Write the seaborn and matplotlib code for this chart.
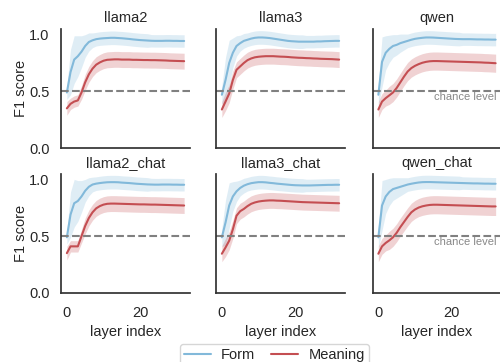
import numpy as np
import pandas as pd
import matplotlib
matplotlib.use("Agg")
import matplotlib.pyplot as plt
from matplotlib import font_manager as fm
import seaborn as sns

layers = list(range(33))
models = ["llama2", "llama3", "qwen", "llama2_chat", "llama3_chat", "qwen_chat"]
series = ["Form", "Meaning"]

form_mean = {
    "llama2": [0.49, 0.67, 0.78, 0.81, 0.85, 0.90, 0.935, 0.95, 0.96, 0.965, 0.968, 0.97, 0.972, 0.972, 0.97, 0.968, 0.965,
               0.962, 0.958, 0.955, 0.952, 0.95, 0.948, 0.946, 0.945, 0.945, 0.945, 0.946, 0.946, 0.945, 0.945, 0.944, 0.944],
    "llama3": [0.47, 0.60, 0.75, 0.84, 0.90, 0.925, 0.945, 0.955, 0.965, 0.972, 0.975, 0.975, 0.973, 0.97, 0.965, 0.96, 0.955,
               0.95, 0.945, 0.942, 0.94, 0.938, 0.938, 0.938, 0.938, 0.938, 0.94, 0.94, 0.942, 0.943, 0.944, 0.945, 0.945],
    "qwen": [0.47, 0.76, 0.84, 0.875, 0.90, 0.91, 0.925, 0.935, 0.945, 0.955, 0.963, 0.968, 0.972, 0.975, 0.975, 0.974, 0.972,
             0.97, 0.968, 0.966, 0.964, 0.962, 0.961, 0.96, 0.96, 0.96, 0.959, 0.958, 0.958, 0.957, 0.957, 0.956, 0.956],
    "llama2_chat": [0.49, 0.69, 0.79, 0.81, 0.85, 0.90, 0.935, 0.955, 0.963, 0.968, 0.972, 0.975, 0.976, 0.976, 0.975, 0.972,
                    0.97, 0.968, 0.965, 0.962, 0.96, 0.958, 0.956, 0.955, 0.954, 0.954, 0.955, 0.955, 0.955, 0.954, 0.954,
                    0.953, 0.953],
    "llama3_chat": [0.49, 0.62, 0.77, 0.85, 0.895, 0.925, 0.945, 0.958, 0.967, 0.972, 0.976, 0.976, 0.974, 0.97, 0.967,
                    0.963, 0.96, 0.957, 0.954, 0.951, 0.949, 0.948, 0.947, 0.947, 0.947, 0.948, 0.949, 0.95, 0.951, 0.952,
                    0.952, 0.953, 0.953],
    "qwen_chat": [0.49, 0.77, 0.85, 0.89, 0.915, 0.925, 0.935, 0.945, 0.955, 0.962, 0.968, 0.973, 0.976, 0.977, 0.977, 0.976,
                  0.975, 0.974, 0.973, 0.972, 0.971, 0.97, 0.969, 0.968, 0.967, 0.966, 0.965, 0.965, 0.964, 0.963, 0.963,
                  0.962, 0.962],
}

meaning_mean = {
    "llama2": [0.35, 0.39, 0.41, 0.42, 0.49, 0.58, 0.65, 0.70, 0.735, 0.755, 0.77, 0.778, 0.78, 0.782, 0.782, 0.78, 0.78,
               0.78, 0.778, 0.778, 0.777, 0.776, 0.776, 0.775, 0.775, 0.774, 0.773, 0.772, 0.77, 0.769, 0.768, 0.767, 0.766],
    "llama3": [0.34, 0.41, 0.48, 0.60, 0.69, 0.72, 0.75, 0.775, 0.79, 0.80, 0.805, 0.808, 0.81, 0.81, 0.81, 0.808, 0.806,
               0.805, 0.803, 0.80, 0.798, 0.796, 0.795, 0.793, 0.792, 0.79, 0.789, 0.787, 0.786, 0.785, 0.784, 0.782, 0.78],
    "qwen": [0.34, 0.41, 0.44, 0.465, 0.49, 0.53, 0.58, 0.63, 0.675, 0.705, 0.725, 0.74, 0.752, 0.76, 0.765, 0.767, 0.767,
             0.766, 0.765, 0.764, 0.763, 0.762, 0.761, 0.76, 0.759, 0.758, 0.757, 0.756, 0.755, 0.753, 0.752, 0.75, 0.748],
    "llama2_chat": [0.35, 0.41, 0.41, 0.41, 0.50, 0.59, 0.66, 0.71, 0.745, 0.765, 0.778, 0.785, 0.787, 0.787, 0.786, 0.785,
                    0.784, 0.783, 0.782, 0.781, 0.78, 0.78, 0.779, 0.778, 0.778, 0.777, 0.776, 0.775, 0.774, 0.773, 0.772,
                    0.771, 0.77],
    "llama3_chat": [0.345, 0.40, 0.46, 0.56, 0.68, 0.72, 0.74, 0.765, 0.785, 0.797, 0.805, 0.81, 0.813, 0.815, 0.815, 0.813,
                    0.812, 0.81, 0.808, 0.806, 0.804, 0.802, 0.80, 0.799, 0.798, 0.797, 0.796, 0.795, 0.794, 0.793, 0.792,
                    0.791, 0.79],
    "qwen_chat": [0.345, 0.41, 0.44, 0.463, 0.49, 0.53, 0.58, 0.625, 0.67, 0.71, 0.735, 0.752, 0.763, 0.77, 0.775, 0.777,
                  0.777, 0.776, 0.775, 0.774, 0.773, 0.772, 0.771, 0.77, 0.769, 0.768, 0.767, 0.766, 0.765, 0.764, 0.763,
                  0.762, 0.762],
}

# half-width of the shaded confidence band
form_band = {
    "llama2": [0.06, 0.20, 0.21, 0.18, 0.14, 0.10, 0.08, 0.065] + [0.06] * 15 + [0.055] * 10,
    "llama3": [0.08, 0.20, 0.20, 0.13, 0.09, 0.07, 0.065] + [0.06] * 16 + [0.055] * 10,
    "qwen": [0.10, 0.22, 0.15, 0.12, 0.10, 0.09, 0.08, 0.07] + [0.06] * 15 + [0.055] * 10,
    "llama2_chat": [0.06, 0.20, 0.21, 0.18, 0.14, 0.10, 0.08, 0.065] + [0.06] * 15 + [0.055] * 10,
    "llama3_chat": [0.08, 0.20, 0.20, 0.13, 0.09, 0.07, 0.065] + [0.06] * 16 + [0.055] * 10,
    "qwen_chat": [0.10, 0.22, 0.15, 0.12, 0.10, 0.09, 0.08, 0.07] + [0.06] * 15 + [0.055] * 10,
}
meaning_band = {
    "llama2": [0.06, 0.05, 0.05, 0.05, 0.06] + [0.07] * 28,
    "llama3": [0.07, 0.08, 0.08, 0.08] + [0.07] * 29,
    "qwen": [0.07, 0.07, 0.07] + [0.08] * 30,
    "llama2_chat": [0.06, 0.05, 0.05, 0.05, 0.06] + [0.07] * 28,
    "llama3_chat": [0.07, 0.08, 0.08, 0.08] + [0.07] * 29,
    "qwen_chat": [0.07, 0.07, 0.07] + [0.08] * 30,
}

chance = 0.5
colors = {"Form": "#82b9da", "Meaning": "#c44e52"}

# avoid the condensed variant being picked for "Liberation Sans"
fm.fontManager.ttflist = [f for f in fm.fontManager.ttflist if "Narrow" not in f.fname and "Narrow" not in f.name]
try:
    fm.fontManager._findfont_cached.cache_clear()
except Exception:
    pass

sns.set_theme(style="white")
plt.rcParams["font.family"] = ["Liberation Sans", "DejaVu Sans"]

fig = plt.figure(figsize=(5.0, 3.62), dpi=100)
col_left = [0.122, 0.432, 0.745]
row_bottom = [0.591, 0.191]
w, h = 0.258, 0.329

axes = []
for i, m in enumerate(models):
    r, c = divmod(i, 3)
    ax = fig.add_axes([col_left[c], row_bottom[r], w, h])
    axes.append(ax)
    df = pd.DataFrame({
        "layer": layers * 2,
        "score": form_mean[m] + meaning_mean[m],
        "kind": ["Form"] * len(layers) + ["Meaning"] * len(layers),
    })
    sns.lineplot(data=df, x="layer", y="score", hue="kind", palette=colors, ax=ax, linewidth=1.5, legend=(i == 0))
    for s, mean_d, band_d in (("Form", form_mean, form_band), ("Meaning", meaning_mean, meaning_band)):
        mu = np.array(mean_d[m])
        bw = np.array(band_d[m])
        ax.fill_between(layers, mu - bw, mu + bw, color=colors[s], alpha=0.25, linewidth=0)
    ax.axhline(chance, color="#808080", linestyle="--", linewidth=1.5)
    ax.set_ylim(0, 1.05)
    ax.set_xlim(-1.6, 33.6)
    ax.set_yticks([0.0, 0.5, 1.0])
    ax.set_xticks([0, 20])
    ax.set_title(m, fontsize=10.5, pad=5)
    ax.tick_params(axis="y", labelsize=10.5, length=0, pad=8.3)
    ax.tick_params(axis="x", labelsize=10.5, length=0, pad=9.3)
    for sp in ("left", "bottom"):
        ax.spines[sp].set_color("#333333")
        ax.spines[sp].set_linewidth(1.25)
    sns.despine(ax=ax)
    if c == 0:
        ax.set_ylabel("F1 score", fontsize=10.5, labelpad=1)
        ax.set_yticklabels(["0.0", "0.5", "1.0"])
    else:
        ax.set_ylabel("")
        ax.set_yticklabels([])
    if r == 1:
        ax.set_xlabel("layer index", fontsize=10.5, labelpad=3.5)
    else:
        ax.set_xlabel("")
        ax.set_xticklabels([])
    if c == 2:
        ax.text(15.3, 0.45, "chance level", fontsize=8, color="#888888", ha="left", va="center")

handles, labels = axes[0].get_legend_handles_labels()
axes[0].get_legend().remove()
fig.legend(handles, labels, loc="upper center", bbox_to_anchor=(0.549, 0.071), ncol=2, fontsize=10.5,
           frameon=True, handlelength=1.85, handletextpad=0.7, columnspacing=1.1, borderpad=0.3)

fig.savefig("out.png", dpi=100)
